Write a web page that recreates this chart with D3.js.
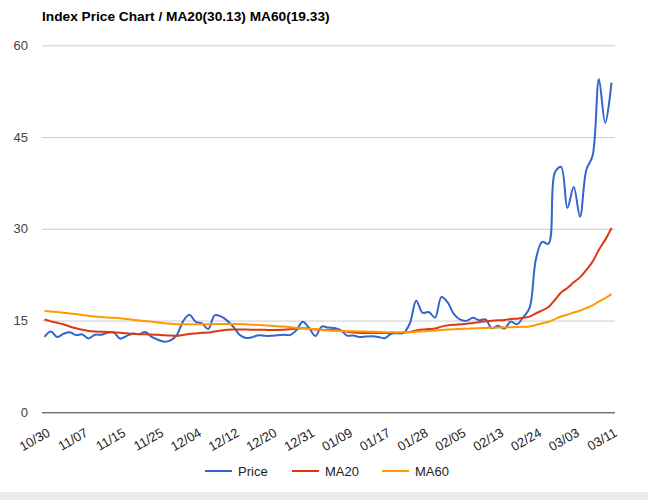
<!DOCTYPE html>
<html>
<head>
<meta charset="utf-8">
<script src="https://cdn.jsdelivr.net/npm/d3@7"></script>
<style>
  body { margin: 0; background: #fff; }
  text { font-family: Arial, "Liberation Sans", sans-serif; }
</style>
</head>
<body>
<div id="chart"></div>
<script>

// trading days shown on the chart
var dates = ["10/30","10/31","11/01","11/04","11/05","11/06","11/07","11/08","11/11","11/12",
  "11/13","11/14","11/15","11/18","11/19","11/20","11/21","11/22","11/25","11/26",
  "11/27","11/29","12/02","12/03","12/04","12/05","12/06","12/09","12/10","12/11",
  "12/12","12/13","12/16","12/17","12/18","12/19","12/20","12/23","12/24","12/26",
  "12/27","12/30","12/31","01/02","01/03","01/06","01/07","01/08","01/09","01/10",
  "01/13","01/14","01/15","01/16","01/17","01/21","01/22","01/23","01/24","01/27",
  "01/28","01/29","01/30","01/31","02/03","02/04","02/05","02/06","02/07","02/10",
  "02/11","02/12","02/13","02/14","02/18","02/19","02/20","02/21","02/24","02/25",
  "02/26","02/27","02/28","03/02","03/03","03/04","03/05","03/06","03/09","03/10","03/11"];

var price = [12.33,13.22,12.30,12.83,13.10,12.62,12.73,12.07,12.69,12.68,
  13.00,13.05,12.05,12.46,12.86,12.78,13.13,12.34,11.87,11.54,
  11.75,12.62,14.91,15.96,14.80,14.52,13.62,15.86,15.68,14.99,
  13.94,12.63,12.14,12.29,12.58,12.50,12.51,12.61,12.67,12.65,
  13.43,14.82,13.78,12.47,14.02,13.85,13.79,13.45,12.54,12.56,
  12.32,12.39,12.42,12.32,12.10,12.85,12.91,12.98,14.56,18.23,
  16.28,16.39,15.49,18.84,17.97,16.05,15.15,14.96,15.47,15.04,
  15.18,13.74,14.15,13.68,14.83,14.38,15.56,17.08,25.03,27.85,
  27.56,39.16,40.11,33.42,36.82,31.99,39.62,41.94,54.46,47.30,53.90];

var ma20 = [15.17,14.87,14.64,14.39,14.03,13.73,13.48,13.31,13.21,13.17,
  13.14,13.10,12.99,12.91,12.83,12.77,12.74,12.73,12.67,12.58,
  12.55,12.52,12.65,12.81,12.90,12.99,13.04,13.22,13.37,13.49,
  13.54,13.52,13.52,13.51,13.50,13.48,13.45,13.47,13.51,13.56,
  13.65,13.76,13.70,13.52,13.49,13.45,13.46,13.34,13.18,13.06,
  12.98,12.97,12.98,12.98,12.96,12.98,13.00,13.02,13.11,13.39,
  13.53,13.61,13.70,14.01,14.21,14.32,14.39,14.47,14.61,14.74,
  14.88,14.95,15.03,15.10,15.24,15.31,15.45,15.65,16.18,16.66,
  17.22,18.36,19.59,20.32,21.26,22.06,23.28,24.63,26.58,28.19,30.13];

var ma60 = [16.58,16.48,16.39,16.29,16.15,16.06,15.91,15.76,15.65,15.58,
  15.50,15.45,15.37,15.25,15.14,15.01,14.91,14.82,14.70,14.56,
  14.47,14.41,14.40,14.41,14.40,14.40,14.39,14.43,14.44,14.45,
  14.45,14.43,14.38,14.33,14.26,14.20,14.14,14.07,14.01,13.91,
  13.79,13.72,13.66,13.57,13.47,13.39,13.33,13.29,13.26,13.24,
  13.22,13.19,13.16,13.14,13.10,13.08,13.06,13.07,13.09,13.18,
  13.24,13.30,13.35,13.45,13.53,13.59,13.63,13.68,13.72,13.76,
  13.80,13.81,13.85,13.87,13.90,13.93,13.97,14.04,14.26,14.54,
  14.80,15.24,15.66,15.95,16.32,16.61,17.04,17.48,18.13,18.66,19.33];

var tickLabels = ["10/30","11/07","11/15","11/25","12/04","12/12","12/20","12/31",
  "01/09","01/17","01/28","02/05","02/13","02/24","03/03","03/11"];
var yTicks = [0, 15, 30, 45, 60];

var seriesNames = ["Price", "MA20", "MA60"];
var seriesColors = ["#3366cc", "#dc3912", "#ff9900"];

function drawChart() {

  var svgWidth = 648;
  var svgHeight = 500;

  var svg = d3.select("#chart")
    .append("svg")
    .attr("width", svgWidth)
    .attr("height", svgHeight);

  svg.append("rect")
    .attr("width", svgWidth)
    .attr("height", svgHeight)
    .attr("fill", "#fff");

  // grey strip at the very bottom
  svg.append("rect")
    .attr("y", 492)
    .attr("width", svgWidth)
    .attr("height", 8)
    .attr("fill", "#ebebeb");

  var gridLeft = 42, gridRight = 615;

  var xScale = d3.scaleLinear()
    .domain([0, dates.length - 1])
    .range([44.5, 611.5]);

  var yScale = d3.scaleLinear()
    .domain([0, 60])
    .range([412.3, 45.3]);

  svg.append("text")
    .attr("x", 42)
    .attr("y", 21)
    .attr("font-size", "13.7px")
    .attr("font-weight", "bold")
    .attr("fill", "#000")
    .text("Index Price Chart / MA20(30.13) MA60(19.33)");

  // horizontal gridlines + y labels
  var yAxis = d3.axisLeft(yScale)
    .tickValues(yTicks)
    .tickSize(-(gridRight - gridLeft))
    .tickPadding(14)
    .tickFormat(d3.format("d"));

  var yGroup = svg.append("g")
    .attr("transform", `translate(${gridLeft},0)`)
    .call(yAxis);

  yGroup.select(".domain").remove();
  yGroup.selectAll(".tick line")
    .attr("stroke", d => d === 0 ? "#333" : "#cccccc")
    .attr("stroke-width", 1);
  yGroup.selectAll(".tick text")
    .attr("font-size", "13px")
    .attr("font-family", "Arial, 'Liberation Sans', sans-serif")
    .attr("fill", "#444");

  // slanted x labels
  var xTicks = tickLabels.map(d => dates.indexOf(d));
  var xAxis = d3.axisBottom(xScale)
    .tickValues(xTicks)
    .tickSize(0)
    .tickFormat(i => dates[i]);

  var xGroup = svg.append("g")
    .attr("transform", "translate(0,412.3)")
    .call(xAxis);

  xGroup.select(".domain").remove();
  xGroup.selectAll(".tick text")
    .attr("font-size", "13px")
    .attr("font-family", "Arial, 'Liberation Sans', sans-serif")
    .attr("fill", "#222")
    .attr("text-anchor", "end")
    .attr("y", 0)
    .attr("dy", 0)
    .attr("transform", "translate(6,23) rotate(-30)");

  var line = d3.line()
    .x((d, i) => xScale(i))
    .y(d => yScale(d))
    .curve(d3.curveCatmullRom.alpha(0.5));

  var allSeries = [price, ma20, ma60];

  svg.append("g")
    .selectAll("path")
    .data(allSeries)
    .enter()
    .append("path")
    .attr("d", d => line(d))
    .attr("fill", "none")
    .attr("stroke", (d, i) => seriesColors[i])
    .attr("stroke-width", 2)
    .attr("stroke-linejoin", "round");

  // legend
  var legendX = [205, 292, 382];
  var legend = svg.append("g")
    .selectAll("g")
    .data(seriesNames)
    .enter()
    .append("g")
    .attr("transform", (d, i) => `translate(${legendX[i]}, 471)`);

  legend.append("line")
    .attr("x1", 0)
    .attr("x2", 27)
    .attr("y1", 0)
    .attr("y2", 0)
    .attr("stroke", (d, i) => seriesColors[i])
    .attr("stroke-width", 2);

  legend.append("text")
    .attr("x", 33)
    .attr("y", 5)
    .attr("font-size", "13px")
    .attr("fill", "#222")
    .text(d => d);
}

document.addEventListener('DOMContentLoaded', function(){
  drawChart();
});
</script>
</body>
</html>
